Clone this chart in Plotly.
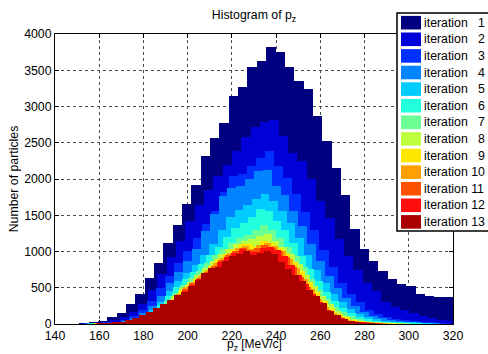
import plotly.graph_objects as go

# ---------------- data ----------------
legend_labels = ["iteration \u20071", "iteration \u20072", "iteration \u20073", "iteration \u20074",
                 "iteration \u20075", "iteration \u20076", "iteration \u20077", "iteration \u20078",
                 "iteration \u20079", "iteration 10", "iteration 11", "iteration 12", "iteration 13"]

colors = ["#000080", "#0000D8", "#0030FF", "#0084FF", "#00CCFF", "#22FFDD", "#6CFF94",
          "#BEFF40", "#FFE800", "#FFA000", "#FF5200", "#FF0C0C", "#AA0000"]

# histogram bin layout of every iteration (first edge, bin width) in MeV/c
bin_start = [151.0, 152.4, 153.0, 154.0, 155.0, 156.0, 157.0, 157.5, 158.0, 158.5, 158.5, 159.0, 159.0]
bin_width = [4.225, 4.225, 4.1, 4.0, 3.9, 3.75, 3.6, 3.5, 3.4, 3.3, 3.25, 3.2, 3.15]

it1 = [8, 20, 40, 90, 158, 278, 420, 635, 840, 1120, 1361, 1651, 1913, 2317, 2566, 2773, 3150, 3274, 3550, 3632,
       3820, 3750, 3540, 3357, 3242, 2874, 2520, 2150, 1780, 1310, 1035, 864, 736, 625, 556, 529, 418, 386, 368, 368]
it2 = [5, 10, 22, 50, 95, 170, 280, 470, 690, 920, 1150, 1420, 1640, 1850, 2036, 2200, 2390, 2575, 2712, 2780,
       2817, 2600, 2358, 2250, 2000, 1700, 1460, 1172, 933, 750, 560, 450, 310, 240, 190, 150, 112, 88, 62, 48]
it3 = [3, 6, 14, 30, 60, 110, 190, 320, 490, 660, 840, 1010, 1180, 1380, 1560, 1820, 2046, 2073, 2183, 2289,
       2380, 2183, 2013, 1800, 1550, 1300, 1020, 780, 560, 420, 300, 200, 140, 100, 70, 50, 35, 25, 17, 12]
it4 = [2, 5, 10, 22, 45, 85, 150, 250, 390, 560, 720, 870, 1040, 1280, 1520, 1760, 1875, 1907, 2000, 2110,
       2119, 1898, 1780, 1560, 1350, 1100, 870, 660, 500, 360, 250, 170, 115, 80, 55, 38, 26, 18, 12, 8]
it5 = [2, 4, 8, 17, 35, 65, 115, 190, 300, 450, 590, 700, 820, 950, 1100, 1290, 1470, 1570, 1640, 1720,
       1790, 1700, 1560, 1400, 1180, 950, 740, 560, 420, 300, 205, 140, 95, 65, 45, 30, 20, 14, 9, 6]
it6 = [2, 4, 8, 15, 30, 55, 100, 165, 260, 380, 510, 620, 720, 830, 950, 1060, 1200, 1320, 1400, 1480,
       1590, 1560, 1420, 1300, 1120, 940, 760, 590, 440, 320, 220, 150, 100, 68, 45, 30, 20, 13, 8, 5]
it7 = [2, 4, 7, 13, 25, 45, 80, 135, 215, 320, 430, 540, 630, 730, 840, 950, 1030, 1120, 1190, 1230,
       1300, 1360, 1300, 1180, 1060, 940, 790, 620, 470, 340, 240, 160, 105, 70, 45, 30, 19, 12, 7, 4]
it8 = [2, 3, 6, 11, 21, 38, 68, 115, 185, 280, 385, 490, 580, 670, 770, 870, 960, 1030, 1100, 1150,
       1170, 1220, 1240, 1150, 1060, 960, 830, 680, 520, 380, 270, 180, 115, 75, 48, 30, 19, 12, 7, 4]
it9 = [1, 3, 5, 10, 19, 34, 60, 100, 165, 250, 350, 450, 540, 620, 710, 800, 890, 970, 1040, 1100,
       1110, 1060, 1150, 1120, 1050, 980, 860, 730, 580, 440, 320, 215, 140, 90, 56, 35, 22, 13, 8, 4]
it10 = [1, 3, 5, 9, 17, 31, 55, 92, 150, 230, 325, 420, 505, 585, 665, 750, 835, 915, 985, 1050,
        1080, 1030, 1090, 1120, 1070, 1010, 900, 770, 620, 480, 350, 240, 155, 98, 62, 38, 23, 14, 8, 4]
it11 = [1, 2, 4, 8, 15, 28, 50, 85, 138, 210, 300, 395, 480, 560, 640, 720, 800, 880, 950, 1010,
        1050, 1020, 1050, 1090, 1050, 1010, 920, 790, 650, 510, 380, 265, 175, 110, 68, 42, 26, 16, 9, 5]
it12 = [1, 2, 4, 7, 14, 26, 46, 78, 128, 195, 280, 370, 455, 535, 615, 695, 775, 850, 920, 980,
        1030, 1000, 990, 1050, 1060, 1020, 940, 820, 680, 550, 420, 300, 200, 125, 78, 48, 29, 17, 10, 5]
it13 = [3, 8, 15, 30, 55, 85, 125, 170, 225, 280, 330, 400, 440, 519, 611, 703, 772, 780, 864, 942,
        969, 1001, 956, 980, 1001, 969, 850, 758, 680, 588, 473, 382, 290, 174, 120, 75, 45, 25, 12, 5]

series = [it1, it2, it3, it4, it5, it6, it7, it8, it9, it10, it11, it12, it13]

x_ticks = [140, 160, 180, 200, 220, 240, 260, 280, 300, 320]
y_ticks = [0, 500, 1000, 1500, 2000, 2500, 3000, 3500, 4000]

x_title = "p<sub>z</sub> [MeV/c]"
y_title = "Number of particles"
chart_title = "Histogram of p<sub>z</sub>"

# ---------------- figure ----------------
W, H = 488, 354
ML, MR, MT, MB = 55, 35, 34, 30
PW, PH = W - ML - MR, H - MT - MB
FONT = "Liberation Sans, Arial, Helvetica, sans-serif"
FS = 12.3

fig = go.Figure()
for lab, col, x0, w, counts in zip(legend_labels, colors, bin_start, bin_width, series):
    centers = [x0 + w * (k + 0.5) for k in range(len(counts))]
    fig.add_trace(go.Bar(x=centers, y=counts, width=w, name=lab, showlegend=False,
                         marker=dict(color=col, line=dict(width=0))))


def px_to_paper_x(px):
    return (px - ML) / PW


def py_to_paper_y(py):
    return (H - MB - py) / PH


shapes = []
annotations = []
# legend box (clipped by the right edge of the page, as in the reference)
shapes.append(dict(type="rect", xref="paper", yref="paper", layer="above",
                   x0=px_to_paper_x(397), x1=px_to_paper_x(492),
                   y0=py_to_paper_y(231), y1=py_to_paper_y(13),
                   fillcolor="white", line=dict(color="black", width=1.5)))
row_h = 16.6
for i, (lab, col) in enumerate(zip(legend_labels, colors)):
    cy = 22.7 + row_h * i
    shapes.append(dict(type="rect", xref="paper", yref="paper", layer="above",
                       x0=px_to_paper_x(401), x1=px_to_paper_x(421),
                       y0=py_to_paper_y(cy + 6.8), y1=py_to_paper_y(cy - 6.8),
                       fillcolor=col, line=dict(width=0)))
    annotations.append(dict(xref="paper", yref="paper", x=px_to_paper_x(422), y=py_to_paper_y(cy),
                            xanchor="left", yanchor="middle", showarrow=False, text=lab,
                            font=dict(size=FS, color="black", family=FONT)))

# x-axis title, placed just below the tick labels as in the reference
annotations.append(dict(xref="paper", yref="paper", x=px_to_paper_x(254), y=py_to_paper_y(354),
                        xanchor="center", yanchor="bottom", showarrow=False, text=x_title,
                        borderpad=0, font=dict(size=12, color="black", family=FONT)))

axis_common = dict(showline=True, linecolor="black", linewidth=1, mirror="ticks",
                   ticks="inside", ticklen=4, tickcolor="black",
                   showgrid=True, gridcolor="#4a4a4a", griddash="dot", gridwidth=1,
                   zeroline=False, layer="below traces",
                   tickfont=dict(size=FS, color="black", family=FONT))

fig.update_layout(
    width=W, height=H,
    margin=dict(l=ML, r=MR, t=MT, b=MB, pad=0, autoexpand=False),
    barmode="overlay", bargap=0,
    plot_bgcolor="white", paper_bgcolor="white",
    font=dict(family=FONT, size=FS, color="black"),
    title=dict(text=chart_title, x=px_to_paper_x(254), xref="paper", xanchor="center",
               y=1 - 15 / H, yref="container", yanchor="middle",
               font=dict(size=FS, color="black", family=FONT)),
    xaxis=dict(range=[140, 320], tickvals=x_ticks, ticktext=[str(v) for v in x_ticks],
               **axis_common),
    yaxis=dict(range=[0, 4000], tickvals=y_ticks, ticktext=[str(v) for v in y_ticks],
               title=dict(text=y_title, standoff=2,
                          font=dict(size=FS, color="black", family=FONT)),
               **axis_common),
    shapes=shapes, annotations=annotations,
    showlegend=False,
)

fig.write_html("out.html")
